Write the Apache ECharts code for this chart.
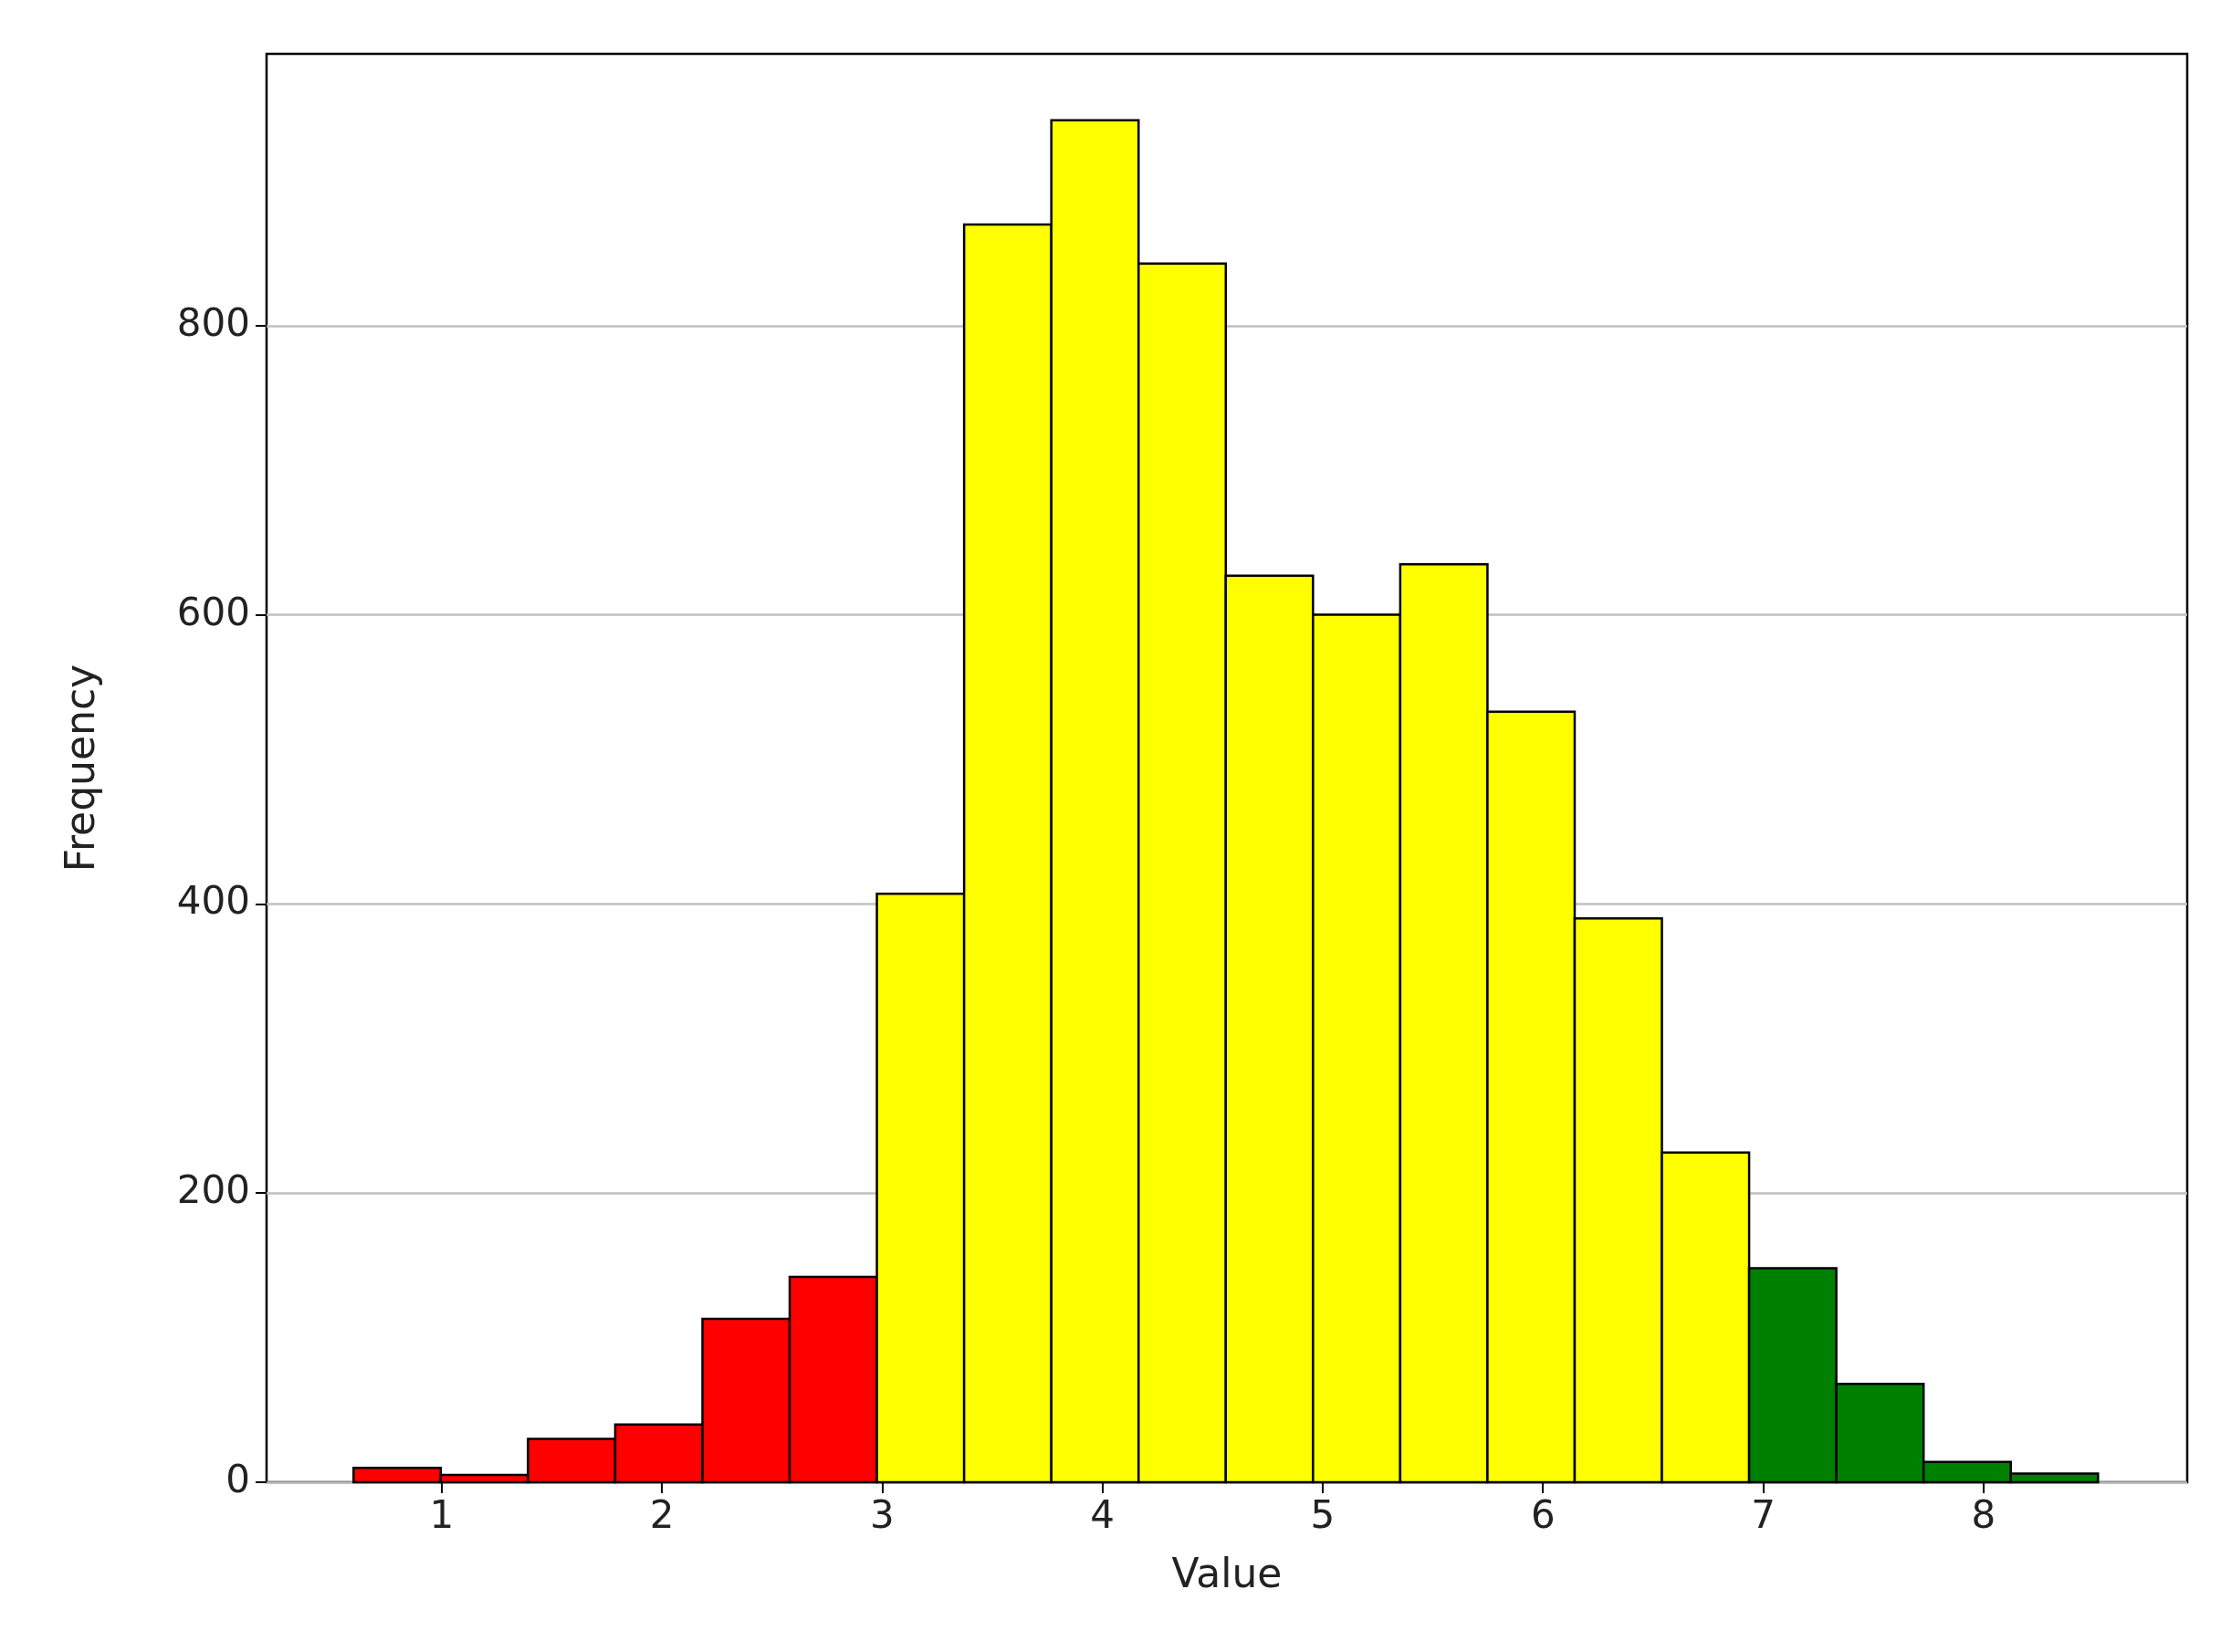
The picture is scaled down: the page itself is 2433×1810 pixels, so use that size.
<!doctype html>
<html>
<head>
<meta charset="UTF-8">
<title>Histogram</title>
<script src="https://cdn.jsdelivr.net/npm/echarts@6/dist/echarts.min.js"></script>
<style>
  html, body { margin: 0; padding: 0; background: #fff; }
  #chart { width: 2433px; height: 1810px; }
</style>
</head>
<body>
<div id="chart"></div>
<script>
// bin edges start and width, counts and colours per bin
var binStart = 0.6;
var binWidth = 0.396;
var counts = [10, 5, 30, 40, 113, 142, 407, 870, 942, 843, 627, 600, 635, 533, 390, 228, 148, 68, 14, 6];
var binColors = ['red', 'red', 'red', 'red', 'red', 'red',
  'yellow', 'yellow', 'yellow', 'yellow', 'yellow', 'yellow', 'yellow', 'yellow', 'yellow', 'yellow',
  'green', 'green', 'green', 'green'];
var xTicks = [1, 2, 3, 4, 5, 6, 7, 8];
var yTicks = [0, 200, 400, 600, 800];

var colorMap = { red: '#ff0000', yellow: '#ffff00', green: '#008000' };
var bins = counts.map(function (c, i) {
  return [binStart + i * binWidth, binStart + (i + 1) * binWidth, c, i];
});

var chart = echarts.init(document.getElementById('chart'));
var font = 'DejaVu Sans';
chart.setOption({
  animation: false,
  grid: { left: 292, right: 37, top: 59, bottom: 186, show: true, borderColor: '#000', borderWidth: 2.5 },
  xAxis: {
    type: 'value', min: 0.205, max: 8.925,
    name: 'Value', nameLocation: 'middle', nameGap: 82,
    nameTextStyle: { fontFamily: font, fontSize: 44, color: '#222' },
    axisLine: { show: false },
    axisTick: { show: true, length: 12, lineStyle: { color: '#000', width: 2 }, customValues: xTicks },
    axisLabel: { customValues: xTicks, fontFamily: font, fontSize: 42, color: '#222', margin: 18 },
    splitLine: { show: false }
  },
  yAxis: {
    type: 'value', min: 0, max: 988,
    name: 'Frequency', nameLocation: 'middle', nameGap: 178,
    nameTextStyle: { fontFamily: font, fontSize: 44, color: '#222' },
    axisLine: { show: false },
    axisTick: { show: true, length: 12, lineStyle: { color: '#000', width: 2 }, customValues: yTicks },
    axisLabel: { customValues: yTicks, fontFamily: font, fontSize: 42, color: '#222', margin: 18 },
    splitLine: { show: true, lineStyle: { color: '#c0c0c0', width: 2.5 } }
  },
  series: [{
    type: 'custom',
    data: bins,
    encode: { x: [0, 1], y: 2 },
    renderItem: function (params, api) {
      var p0 = api.coord([api.value(0), api.value(2)]);
      var p1 = api.coord([api.value(1), 0]);
      return {
        type: 'rect',
        shape: { x: p0[0], y: p0[1], width: p1[0] - p0[0], height: p1[1] - p0[1] },
        style: { fill: colorMap[binColors[api.value(3)]], stroke: '#000', lineWidth: 2.5 }
      };
    }
  }]
});
</script>
</body>
</html>
